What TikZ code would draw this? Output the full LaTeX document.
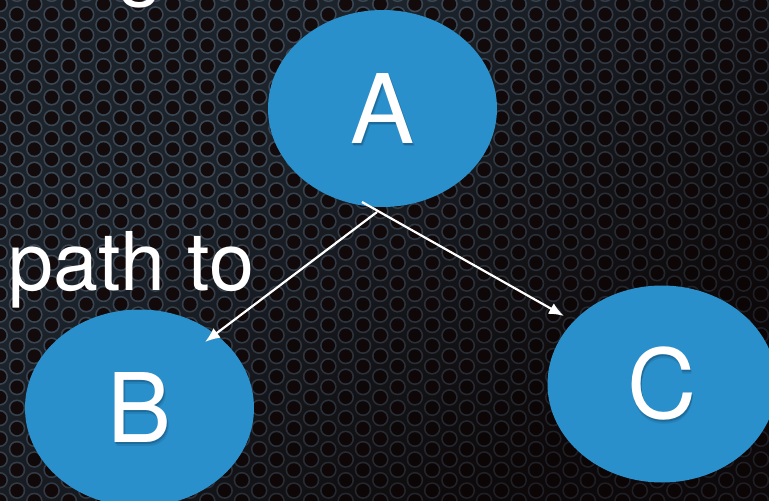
\documentclass[tikz,border=0pt]{standalone}
\usepackage{fontspec}
\setmainfont{TeX Gyre Heros}
\usetikzlibrary{shapes.geometric,arrows.meta}

% perforated metal backdrop
\definecolor{surflit}{HTML}{1C232B}
\definecolor{surfdark}{HTML}{0C0606}
\definecolor{ringlit}{HTML}{3A4754}
\definecolor{ringdark}{HTML}{1B1C22}
\definecolor{holelit}{HTML}{120A0B}
\definecolor{holedark}{HTML}{0B0405}
% bubbles and lettering
\definecolor{bubble}{HTML}{2A90CC}
\definecolor{shadowfar}{HTML}{2582B9}
\definecolor{shadownear}{HTML}{1E6B9B}

% white letter with a soft drop shadow under it
\newcommand\embossed[1]{%
  \makebox[0pt][l]{\hspace{1.6pt}\raisebox{-3.2pt}[0pt][0pt]{\color{shadowfar}#1}}%
  \makebox[0pt][l]{\hspace{0.8pt}\raisebox{-1.6pt}[0pt][0pt]{\color{shadownear}#1}}%
  #1}

\tikzset{
  bubblenode/.style={ellipse, fill=bubble, inner sep=0pt,
    minimum width=229pt, minimum height=197pt,
    text=white, font=\fontsize{96}{96}\selectfont},
  caption/.style={inner sep=0pt, text=white, font=\fontsize{81}{81}\selectfont},
  edge/.style={draw=white, line width=2.2pt, -{Latex[length=15pt,width=12pt]}}
}

\begin{document}
\begin{tikzpicture}[x=1pt,y=-1pt]
\useasboundingbox (0,0) rectangle (769,501);
\clip (0,0) rectangle (769,501);
\fill[surfdark] (0,0) rectangle (769,501);

% metal surface, lit from the upper left
\foreach \k in {0,...,45}{
  \foreach \m in {0,...,26}{
    \pgfmathsetmacro\xx{-0.3+17.3*\k}
    \pgfmathsetmacro\yy{-16.6+20.7*\m+10.35*mod(\k,2)}
    \pgfmathsetmacro\p{max(8,min(100,100-(0.8*\xx+\yy-350)/6))}
    \colorlet{sc}{surflit!\p!surfdark}
    \fill[sc] (\xx,\yy) circle (12.5);
  }
}
% holes with their rims
\foreach \k in {0,...,45}{
  \foreach \m in {0,...,26}{
    \pgfmathsetmacro\xx{-0.3+17.3*\k}
    \pgfmathsetmacro\yy{-16.6+20.7*\m+10.35*mod(\k,2)}
    \pgfmathsetmacro\p{max(8,min(100,100-(0.8*\xx+\yy-350)/6))}
    \colorlet{rc}{ringlit!\p!ringdark}
    \colorlet{hc}{holelit!\p!holedark}
    \fill[rc] (\xx,\yy) circle (8.3);
    \fill[hc] (\xx,\yy) circle (6.6);
  }
}

% text lines
\node[caption, anchor=base west] (gtail) at (118,-10) {g};
\node[caption, anchor=base west] (pathlabel) at (8,290) {path to};

% graph nodes
\node[bubblenode] (A) at (382.5,108.5) {\embossed{A}};
\node[bubblenode] (B) at (139.5,408) {\embossed{B}};
\node[bubblenode] (C) at (662,384) {\embossed{C}};

% edges
\coordinate (fromAB) at (377,212);
\coordinate (fromAC) at (362,202);
\coordinate (intoB) at (205,342);
\coordinate (intoC) at (564,316);
\draw[edge] (fromAB) -- (intoB);
\draw[edge] (fromAC) -- (intoC);
\end{tikzpicture}
\end{document}
